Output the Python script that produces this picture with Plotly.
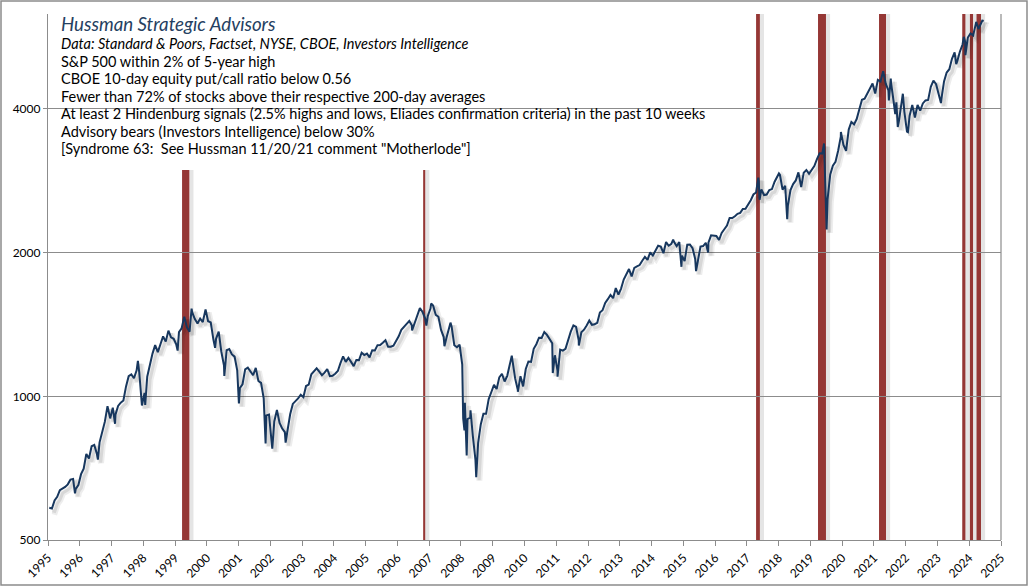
import plotly.graph_objects as go

# ---------------- data ----------------
# S&P 500 month-end closes, Sep 1995 .. Jan 2025
monthly_close = [
    584, 582, 605, 616,
    636, 640, 646, 654, 669, 671, 640, 652, 687, 705, 757, 741,
    786, 791, 757, 801, 848, 885, 954, 899, 947, 915, 955, 970,
    980, 1049, 1102, 1112, 1091, 1134, 1121, 957, 1017, 1099, 1164, 1229,
    1280, 1238, 1286, 1335, 1302, 1373, 1329, 1320, 1283, 1363, 1389, 1469,
    1394, 1366, 1499, 1452, 1421, 1455, 1431, 1518, 1437, 1429, 1315, 1320,
    1366, 1240, 1160, 1249, 1256, 1224, 1211, 1134, 1041, 1060, 1139, 1148,
    1130, 1107, 1147, 1077, 1067, 990, 912, 916, 815, 886, 936, 880,
    856, 841, 848, 917, 964, 975, 990, 1008, 996, 1051, 1058, 1112,
    1131, 1145, 1126, 1107, 1121, 1141, 1102, 1104, 1115, 1130, 1174, 1212,
    1181, 1204, 1181, 1157, 1192, 1191, 1234, 1220, 1229, 1207, 1249, 1248,
    1280, 1281, 1295, 1311, 1270, 1270, 1277, 1304, 1336, 1378, 1401, 1418,
    1438, 1407, 1421, 1482, 1531, 1503, 1455, 1474, 1527, 1549, 1481, 1468,
    1378, 1331, 1323, 1386, 1400, 1280, 1267, 1283, 1165, 969, 896, 903,
    826, 735, 798, 873, 919, 919, 987, 1021, 1057, 1036, 1096, 1115,
    1074, 1104, 1169, 1187, 1089, 1031, 1102, 1049, 1141, 1183, 1181, 1258,
    1286, 1327, 1326, 1364, 1345, 1321, 1292, 1219, 1131, 1253, 1247, 1258,
    1312, 1366, 1408, 1398, 1310, 1362, 1379, 1407, 1441, 1412, 1416, 1426,
    1498, 1515, 1569, 1598, 1631, 1606, 1686, 1633, 1682, 1757, 1806, 1848,
    1783, 1859, 1872, 1884, 1924, 1960, 1931, 2003, 1972, 2018, 2068, 2059,
    1995, 2105, 2068, 2086, 2107, 2063, 2104, 1972, 1920, 2079, 2080, 2044,
    1940, 1932, 2060, 2065, 2097, 2099, 2174, 2171, 2168, 2126, 2199, 2239,
    2279, 2364, 2363, 2384, 2412, 2423, 2470, 2472, 2519, 2575, 2648, 2674,
    2824, 2714, 2641, 2648, 2705, 2718, 2816, 2902, 2914, 2712, 2760, 2507,
    2704, 2784, 2834, 2946, 2752, 2942, 2980, 2926, 2977, 3038, 3141, 3231,
    3226, 2954, 2585, 2912, 3044, 3100, 3271, 3500, 3363, 3270, 3622, 3756,
    3714, 3811, 3973, 4181, 4204, 4298, 4395, 4523, 4308, 4605, 4567, 4766,
    4516, 4374, 4530, 4132, 4132, 3785, 4130, 3955, 3586, 3872, 4080, 3840,
    4077, 3970, 4109, 4169, 4180, 4450, 4589, 4508, 4288, 4194, 4568, 4770,
    4846, 5096, 5254, 5036, 5278, 5460, 5522, 5648, 5762, 5705, 6032, 5882,
    6041,
]
first_month_end = 1995.75          # end of Sep 1995 (calendar decimal year)

# intra-month highs / lows (calendar decimal year, level)
extreme_dates = [1996.56, 1997.28, 1997.82, 1998.54, 1998.77, 1999.79, 2000.23, 2000.67,
                 2000.97, 2001.26, 2001.72, 2002.56, 2002.77, 2003.19, 2007.17, 2007.62,
                 2007.77, 2008.19, 2008.38, 2008.78, 2008.82, 2008.89, 2009.01, 2009.19,
                 2010.31, 2010.50, 2011.60, 2011.75, 2012.42, 2015.39, 2015.65, 2016.11,
                 2016.49, 2018.07, 2018.11, 2018.72, 2018.98, 2019.42, 2020.14, 2020.22,
                 2020.67, 2022.00, 2022.18, 2022.24, 2022.38, 2022.46, 2022.62, 2022.78,
                 2023.82, 2024.30, 2024.54, 2024.59, 2024.93, 2025.13, 2025.15]
extreme_levels = [626, 737, 876, 1187, 959, 1247, 1527, 1521,
                  1264, 1103, 966, 797, 777, 800, 1374, 1406,
                  1565, 1274, 1427, 899, 848, 752, 935, 677,
                  1217, 1022, 1119, 1099, 1278, 2131, 1868, 1829,
                  2001, 2873, 2581, 2931, 2351, 2744, 3386, 2237,
                  3580, 4797, 4170, 4632, 3901, 3667, 4305, 3577,
                  4117, 4967, 5667, 5186, 6090, 6144, 6100]

# the chart's year labels sit this far (years) ahead of the calendar
label_shift = 0.71

# syndrome signal periods (chart axis years)
signal_start = [1999.22, 2006.81, 2017.29, 2019.24, 2021.16, 2023.78, 2024.02, 2024.23]
signal_end = [1999.45, 2006.875, 2017.41, 2019.49, 2021.38, 2023.88, 2024.12, 2024.37]

year_ticks = list(range(1995, 2026))
y_ticks = [500, 1000, 2000, 4000]

title_text = "Hussman Strategic Advisors"
source_text = "Data: Standard & Poors, Factset, NYSE, CBOE, Investors Intelligence"
criteria_lines = [
    "S&P 500 within 2% of 5-year high",
    "CBOE 10-day equity put/call ratio below 0.56",
    "Fewer than 72% of stocks above their respective 200-day averages",
    "At least 2 Hindenburg signals (2.5% highs and lows, Eliades confirmation criteria) in the past 10 weeks",
    "Advisory bears (Investors Intelligence) below 30%",
    "[Syndrome 63:  See Hussman 11/20/21 comment \"Motherlode\"]",
]

# ---------------- build series ----------------
pts = [(first_month_end + i / 12.0, v) for i, v in enumerate(monthly_close)]
pts += list(zip(extreme_dates, extreme_levels))
pts.sort(key=lambda p: p[0])
xs = [p[0] - label_shift for p in pts]
ys = [p[1] for p in pts]

# ---------------- layout geometry ----------------
W, H = 1029, 588
L, R, T, B = 48, 28, 14, 48
pw, ph = W - L - R, H - T - B
def px_x(px):
    return (px - L) / pw
def px_y(py):
    return (H - B - py) / ph

BAR = "#953735"
NAVY = "#17375E"
GRID = "#8C8C8C"

fig = go.Figure()

# soft drop shadow of line
fig.add_trace(go.Scatter(
    x=[x + 0.1 for x in xs], y=[y * 0.984 for y in ys], mode="lines",
    line=dict(color="rgba(0,0,0,0.07)", width=6), hoverinfo="skip", showlegend=False))
fig.add_trace(go.Scatter(
    x=[x + 0.09 for x in xs], y=[y * 0.986 for y in ys], mode="lines",
    line=dict(color="rgba(0,0,0,0.09)", width=3), hoverinfo="skip", showlegend=False))
fig.add_trace(go.Scatter(
    x=xs, y=ys, mode="lines", line=dict(color=NAVY, width=2),
    name="S&P 500", showlegend=False))

shapes = []
for s, e in zip(signal_start, signal_end):
    shapes.append(dict(type="rect", xref="x", yref="paper", x0=e, x1=e + 0.13, y0=0, y1=1,
                       fillcolor="rgba(0,0,0,0.10)", line=dict(width=0), layer="between"))
    shapes.append(dict(type="rect", xref="x", yref="paper", x0=s, x1=e, y0=0, y1=1,
                       fillcolor=BAR, line=dict(width=0), layer="between"))
# white text box
shapes.append(dict(type="rect", xref="paper", yref="paper", x0=px_x(49.5), x1=px_x(734),
                   y0=px_y(170), y1=1.0, fillcolor="white", line=dict(width=0), layer="between"))
# right frame line
shapes.append(dict(type="line", xref="paper", yref="paper", x0=1, x1=1, y0=0, y1=1,
                   line=dict(color=GRID, width=1.2), layer="between"))
# outer border
shapes.append(dict(type="rect", xref="paper", yref="paper", x0=px_x(1), x1=px_x(1027),
                   y0=px_y(585), y1=px_y(1), line=dict(color="#8C8C8C", width=1.5),
                   fillcolor="rgba(0,0,0,0)", layer="above"))

annotations = []
tx = px_x(59)
annotations.append(dict(text=title_text, x=tx, y=px_y(23.5), xref="paper", yref="paper",
                        xanchor="left", yanchor="middle", showarrow=False,
                        font=dict(family="Lato", size=18.7, color="#254061", style="italic")))
annotations.append(dict(text=source_text, x=tx, y=px_y(43.5), xref="paper", yref="paper",
                        xanchor="left", yanchor="middle", showarrow=False,
                        font=dict(family="Lato", size=14.5, color="#000000", style="italic")))
for i, t in enumerate(criteria_lines):
    annotations.append(dict(text=t, x=tx, y=px_y(61.2 + i * 17.5), xref="paper", yref="paper",
                            xanchor="left", yanchor="middle", showarrow=False,
                            font=dict(family="Lato", size=14.5, color="#000000")))

fig.update_layout(
    width=W, height=H, margin=dict(l=L, r=R, t=T, b=B, autoexpand=False),
    paper_bgcolor="white", plot_bgcolor="white",
    shapes=shapes, annotations=annotations,
    font=dict(family="Lato", size=12, color="#000000"),
    xaxis=dict(range=[1995, 2025], tickvals=year_ticks, ticktext=[str(v) for v in year_ticks],
               tickangle=-45, showgrid=False, zeroline=False, showline=True, automargin=False,
               linecolor=GRID, linewidth=1.2, ticks="outside", ticklen=5, tickcolor=GRID,
               tickfont=dict(size=12, color="#000000")),
    yaxis=dict(type="log", range=[2.69897, 3.8011], tickvals=y_ticks, automargin=False,
               ticktext=[str(v) for v in y_ticks], showgrid=True, gridcolor=GRID, gridwidth=1.2,
               zeroline=False, showline=True, linecolor=GRID, linewidth=1.2,
               ticks="outside", ticklen=4, tickcolor=GRID,
               tickfont=dict(size=12, color="#000000")),
)

fig.write_html("out.html", config={"displayModeBar": False},
               post_script="document.body.style.margin='0';document.body.style.overflow='hidden';")
